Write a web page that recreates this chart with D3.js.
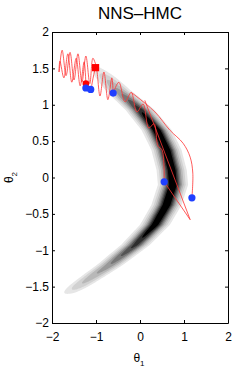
<!DOCTYPE html>
<html>
<head>
<meta charset="utf-8">
<script src="https://cdn.jsdelivr.net/npm/d3@7"></script>
<style>
  body { margin: 0; background: #fff; }
  svg { display: block; }
  text { font-family: "Liberation Sans", Arial, Helvetica, sans-serif; }
</style>
</head>
<body>
<svg width="251" height="374"></svg>
<script>
// tick values and labels
const xTicks = [-2, -1, 0, 1, 2];
const xTickLabels = ["\u22122", "\u22121", "0", "1", "2"];
const yTicks = [-2, -1.5, -1, -0.5, 0, 0.5, 1, 1.5, 2];
const yTickLabels = ["\u22122", "\u22121.5", "\u22121", "\u22120.5", "0", "0.5", "1", "1.5", "2"];

// banana density: ridge centre (theta1 at a given theta2) and peak height
const ridgeTheta2 = [1.62, 1.45, 1.2, 0.93, 0.65, 0.38, 0.1, -0.1, -0.38, -0.65, -0.93, -1.2, -1.48, -1.64];
const ridgeTheta1 = [-1.2, -0.9, -0.5, 0.0, 0.38, 0.6, 0.72, 0.75, 0.6, 0.34, -0.11, -0.68, -1.36, -1.74];
const ridgePeak   = [0.0, 0.1, 0.38, 0.8, 1, 1, 1, 1, 1, 0.95, 0.75, 0.45, 0.2, 0.0];
const ridgeSpread = 0.14;
const levels = [0.05, 0.12, 0.22, 0.34, 0.46, 0.58, 0.7, 0.82];
const levelGray = [0.9, 0.82, 0.72, 0.6, 0.47, 0.33, 0.18, 0.0];

// red trajectories [theta1, theta2]
const trajA = [[-0.98,1.50],[-1.07,1.64],[-1.14,1.29],[-1.23,1.67],[-1.32,1.31],[-1.41,1.70],[-1.50,1.34],
               [-1.59,1.72],[-1.68,1.40],[-1.77,1.75],[-1.84,1.45],[-1.82,1.60],[-1.73,1.37],[-1.64,1.70],
               [-1.55,1.31],[-1.45,1.64],[-1.36,1.26],[-1.27,1.59],[-1.23,1.29]];
const trajB = [[-1.11,1.22],[-1.00,1.51],[-0.91,1.12],[-0.82,1.45],[-0.73,1.07],[-0.64,1.37],[-0.61,1.16]];
const trajC = [[-0.61,1.16],[-0.48,1.31],[-0.34,1.04],[-0.20,1.17],[-0.07,0.90],[0.07,1.01],[0.20,0.68],
               [0.32,0.74],[0.41,0.43],[0.50,0.38],[0.55,-0.06]];
const trajD = [[-0.20,1.17],[-0.07,1.11],[0.34,0.90],[0.68,0.65],[0.98,0.47],[1.14,0.28],[1.20,0.06],[1.18,-0.28]];
const trajE = [[0.11,1.06],[1.14,-0.58],[0.55,-0.06]];

// start point, rejected point and samples
const startPoint = [-1.01, 1.51];
const rejected = [[-1.23, 1.29]];
const samples = [[-1.23,1.23],[-1.12,1.21],[-0.61,1.16],[0.55,-0.06],[1.18,-0.28]];

const svg = d3.select("svg");
const margin = {left: 52, top: 32, right: 23, bottom: 51};
const W = +svg.attr("width"), H = +svg.attr("height");
const x = d3.scaleLinear().domain([-2, 2]).range([margin.left, W - margin.right]);
const y = d3.scaleLinear().domain([-2, 2]).range([H - margin.bottom, margin.top]);

svg.append("defs").append("clipPath").attr("id", "plot")
  .append("rect")
  .attr("x", x(-2)).attr("y", y(2))
  .attr("width", x(2) - x(-2)).attr("height", y(-2) - y(2));

// density grid
const nx = 200, ny = 300;
const ridgeAt = d3.scaleLinear().domain(ridgeTheta2).range(ridgeTheta1).clamp(true);
const peakAt = d3.scaleLinear().domain(ridgeTheta2).range(ridgePeak).clamp(true);
const grid = new Float64Array(nx * ny);
for (let j = 0; j < ny; j++) {
  const t2 = 2 - (j + 0.5) * 4 / ny;
  const r = ridgeAt(t2), p = peakAt(t2);
  for (let i = 0; i < nx; i++) {
    const t1 = -2 + (i + 0.5) * 4 / nx;
    const d = t1 - r;
    grid[j * nx + i] = p * Math.exp(-d * d / (2 * ridgeSpread * ridgeSpread));
  }
}
const contours = d3.contours().size([nx, ny]).thresholds(levels)(grid);
const proj = d3.geoTransform({
  point(px, py) { this.stream.point(x(-2 + px * 4 / nx), y(2 - py * 4 / ny)); }
});
const path = d3.geoPath(proj);

const plot = svg.append("g").attr("clip-path", "url(#plot)");
plot.selectAll("path.band")
  .data(contours)
  .enter().append("path")
  .attr("class", "band")
  .attr("d", path)
  .attr("fill", (d, i) => d3.rgb(255 * levelGray[i], 255 * levelGray[i], 255 * levelGray[i]))
  .attr("stroke", "none");

// trajectories
const line = d3.line()
  .x(d => x(d[0]))
  .y(d => y(d[1]))
  .curve(d3.curveCatmullRom.alpha(0.5));
plot.selectAll("path.traj")
  .data([trajA, trajB, trajC, trajD])
  .enter().append("path")
  .attr("class", "traj")
  .attr("d", line)
  .attr("fill", "none")
  .attr("stroke", "#ff3333")
  .attr("stroke-width", 0.8);
plot.append("path")
  .attr("d", d3.line().x(d => x(d[0])).y(d => y(d[1]))(trajE))
  .attr("fill", "none")
  .attr("stroke", "#ff3333")
  .attr("stroke-width", 0.8);

plot.selectAll("circle.rej")
  .data(rejected)
  .enter().append("circle")
  .attr("cx", d => x(d[0])).attr("cy", d => y(d[1]))
  .attr("r", 3.3).attr("fill", "#ff0000");
plot.selectAll("circle.samp")
  .data(samples)
  .enter().append("circle")
  .attr("cx", d => x(d[0])).attr("cy", d => y(d[1]))
  .attr("r", 3.6).attr("fill", "#1f3fff");
plot.append("rect")
  .attr("x", x(startPoint[0]) - 3.6).attr("y", y(startPoint[1]) - 3.6)
  .attr("width", 7.2).attr("height", 7.2)
  .attr("fill", "#ff0000");

// axes box with inward ticks
const fmtX = d => xTickLabels[xTicks.indexOf(d)];
const fmtY = d => yTickLabels[yTicks.indexOf(d)];
svg.append("g").attr("transform", "translate(0," + y(-2) + ")")
  .call(d3.axisBottom(x).tickValues(xTicks).tickFormat(fmtX).tickSizeInner(-3).tickSizeOuter(0).tickPadding(9));
svg.append("g").attr("transform", "translate(" + x(-2) + ",0)")
  .call(d3.axisLeft(y).tickValues(yTicks).tickFormat(fmtY).tickSizeInner(-3).tickSizeOuter(0).tickPadding(3));
svg.append("g").attr("transform", "translate(0," + y(2) + ")")
  .call(d3.axisTop(x).tickValues(xTicks).tickFormat("").tickSizeInner(-3).tickSizeOuter(0));
svg.append("g").attr("transform", "translate(" + x(2) + ",0)")
  .call(d3.axisRight(y).tickValues(yTicks).tickFormat("").tickSizeInner(-3).tickSizeOuter(0));
svg.selectAll(".domain, .tick line").attr("stroke", "#000").attr("stroke-width", 1);
svg.selectAll(".tick text").attr("font-size", 12).attr("fill", "#000")
  .style("font-family", "'Liberation Sans', Arial, sans-serif");

// title and axis labels
svg.append("text")
  .attr("x", x(0)).attr("y", 18.5)
  .attr("text-anchor", "middle")
  .attr("font-size", 17)
  .text("NNS\u2013HMC");

const xl = svg.append("text")
  .attr("x", x(0) - 1).attr("y", 362)
  .attr("text-anchor", "middle")
  .attr("font-size", 12);
xl.append("tspan").text("\u03b8");
xl.append("tspan").attr("font-size", 8).attr("dy", 4).text("1");

const yl = svg.append("text")
  .attr("transform", "translate(12.5," + y(0) + ") rotate(-90)")
  .attr("text-anchor", "middle")
  .attr("font-size", 12);
yl.append("tspan").text("\u03b8");
yl.append("tspan").attr("font-size", 8).attr("dy", 4).text("2");
</script>
</body>
</html>
